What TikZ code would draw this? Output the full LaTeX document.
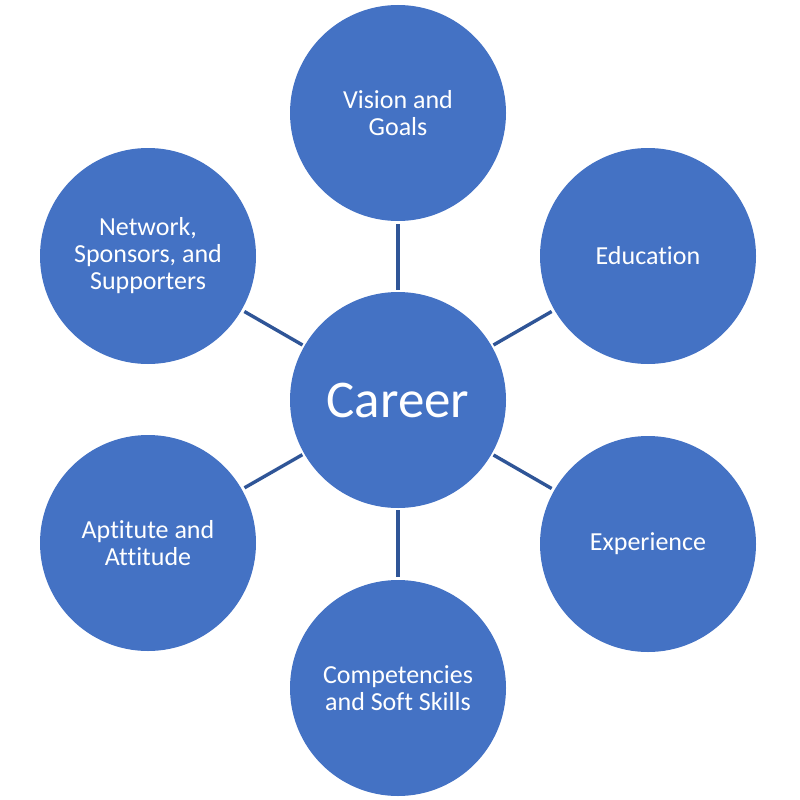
\documentclass[tikz,border=0pt]{standalone}
\usepackage{fontspec}
\setmainfont{Carlito}[Ligatures=NoCommon]
\definecolor{cfill}{HTML}{4472C4}
\definecolor{cline}{HTML}{2F5597}
\begin{document}
\begin{tikzpicture}[x=1pt,y=-1pt,
  bub/.style={circle,fill=cfill,minimum size=216pt,inner sep=0pt,text=white,
    align=center,font=\fontsize{26}{27}\selectfont},
  hub/.style={bub,font=\fontsize{53}{60}\selectfont},
  link/.style={draw=cline,line width=3.4pt,shorten <=2pt,shorten >=3pt}]
\useasboundingbox (0,0) rectangle (800,800);
\node[hub] (c) at (398,400) {Career};
\node[bub] (v) at (398,113) {Vision and\\Goals};
\node[bub] (e) at (648,256) {Education};
\node[bub] (x) at (648,544) {Experience};
\node[bub] (s) at (398,688) {Competencies\\and Soft Skills};
\node[bub] (a) at (148,543) {Aptitute and\\Attitude};
\node[bub] (n) at (148,256) {Network,\\Sponsors, and\\Supporters};
\foreach \o in {v,e,x,s,a,n} \draw[link] (c) -- (\o);
\end{tikzpicture}
\end{document}
